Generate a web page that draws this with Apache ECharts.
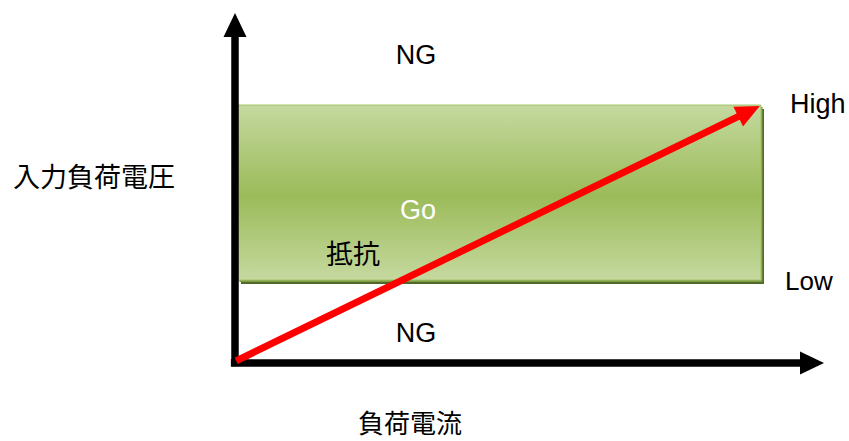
<!DOCTYPE html>
<html><head><meta charset="utf-8">
<script src="https://cdn.jsdelivr.net/npm/echarts@6/dist/echarts.min.js"></script>
<style>html,body{margin:0;padding:0;background:#fff}#c{width:849px;height:441px}</style>
</head><body><div id="c"></div>
<script>
// ---- data (both axes in abstract units 0–100) ----
const goBand = [[0.5, 23.7, 89.3, 73.7]];            // [xStart, low, xEnd, high]
const axisLines = [[-0.7, 0, 100, 0], [0, -0.9, 0, 100]]; // [x0, y0, x1, y1]
const loadLine = [[0.2, 0.6, 89.1, 73.4]];          // [x0, y0, x1, y1]
const zoneLabels = ['NG', 'Go', 'NG'];
const levelLabels = ['High', 'Low'];
const resistanceLabel = '抵抗';
const yAxisTitle = '入力負荷電圧';
const xAxisTitle = '負荷電流';

const LATIN = '"Liberation Sans", Arial, sans-serif';
const CJK = '"Noto Sans CJK JP", sans-serif';

function arrowItem(color, width, headLen, headW) {
  return function (params, api) {
    const p0 = api.coord([api.value(0), api.value(1)]);
    const p1 = api.coord([api.value(2), api.value(3)]);
    const dx = p1[0] - p0[0], dy = p1[1] - p0[1];
    const L = Math.hypot(dx, dy), ux = dx / L, uy = dy / L;
    const bx = p1[0] - ux * headLen, by = p1[1] - uy * headLen;
    const nx = -uy, ny = ux;
    return {
      type: 'group', children: [
        { type: 'line', shape: { x1: p0[0], y1: p0[1], x2: bx + ux, y2: by + uy },
          style: { stroke: color, lineWidth: width, lineCap: 'butt' } },
        { type: 'polygon', shape: { points: [[p1[0], p1[1]],
            [bx + nx * headW / 2, by + ny * headW / 2], [bx - nx * headW / 2, by - ny * headW / 2]] },
          style: { fill: color } }
      ]
    };
  };
}

function bandItem(params, api) {
  const a = api.coord([api.value(0), api.value(3)]);
  const b = api.coord([api.value(2), api.value(1)]);
  const w = b[0] - a[0], h = b[1] - a[1];
  return {
    type: 'group', children: [
      { type: 'rect', shape: { x: a[0] + 3, y: a[1] + 4, width: w, height: h },
        style: { fill: '#52682b' } },
      { type: 'rect', shape: { x: a[0] + 1.5, y: a[1] + 2, width: w, height: h },
        style: { fill: '#7e9c45' } },
      { type: 'rect', shape: { x: a[0], y: a[1], width: w, height: h },
        style: {
          fill: new echarts.graphic.LinearGradient(0, 0, 0, 1, [
            { offset: 0, color: '#c5d99f' },
            { offset: 0.52, color: '#9bbb59' },
            { offset: 1, color: '#c5d99f' }
          ]),
          stroke: '#a3c265', lineWidth: 1
        } }
    ]
  };
}

const chart = echarts.init(document.getElementById('c'), null, { renderer: 'svg' });
chart.setOption({
  animation: false,
  grid: { left: 235, right: 25, top: 13, bottom: 78 },
  xAxis: { type: 'value', min: 0, max: 100, show: false },
  yAxis: { type: 'value', min: 0, max: 100, show: false },
  series: [
    { type: 'custom', z: 1, clip: false, renderItem: bandItem, data: goBand },
    { type: 'custom', z: 2, clip: false, renderItem: arrowItem('#000000', 7.5, 24, 23), data: axisLines },
    { type: 'custom', z: 3, clip: false, renderItem: arrowItem('#ff0000', 7, 24, 22), data: loadLine }
  ],
  graphic: [
    { type: 'text', x: 416, y: 55, z: 10, style: { text: zoneLabels[0], font: '27px ' + LATIN, fill: '#000', align: 'center', verticalAlign: 'middle' } },
    { type: 'text', x: 418, y: 210, z: 10, style: { text: zoneLabels[1], font: '27px ' + LATIN, fill: '#fff', align: 'center', verticalAlign: 'middle' } },
    { type: 'text', x: 416, y: 333, z: 10, style: { text: zoneLabels[2], font: '27px ' + LATIN, fill: '#000', align: 'center', verticalAlign: 'middle' } },
    { type: 'text', x: 790, y: 104, z: 10, style: { text: levelLabels[0], font: '27px ' + LATIN, fill: '#000', align: 'left', verticalAlign: 'middle' } },
    { type: 'text', x: 785, y: 281, z: 10, style: { text: levelLabels[1], font: '26px ' + LATIN, fill: '#000', align: 'left', verticalAlign: 'middle' } },
    { type: 'text', x: 353, y: 252, z: 10, style: { text: resistanceLabel, font: '27px ' + CJK, fill: '#000', align: 'center', verticalAlign: 'middle' } },
    { type: 'text', x: 94, y: 175, z: 10, style: { text: yAxisTitle, font: '27px ' + CJK, fill: '#000', align: 'center', verticalAlign: 'middle' } },
    { type: 'text', x: 410, y: 421, z: 10, style: { text: xAxisTitle, font: '26px ' + CJK, fill: '#000', align: 'center', verticalAlign: 'middle' } }
  ]
});
</script>
</body></html>
